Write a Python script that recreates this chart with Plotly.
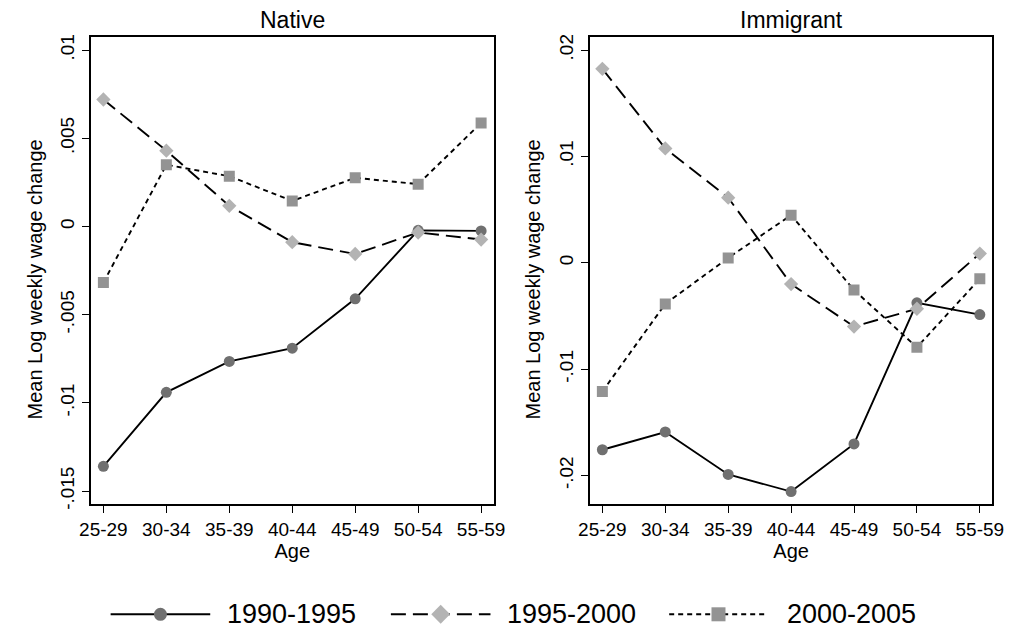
import plotly.graph_objects as go

ages = ["25-29", "30-34", "35-39", "40-44", "45-49", "50-54", "55-59"]
series_names = ["1990-1995", "1995-2000", "2000-2005"]

native_1990_1995 = [-0.0136, -0.0094, -0.00765, -0.0069, -0.0041, -0.00022, -0.00025]
native_1995_2000 = [0.0072, 0.0043, 0.00117, -0.00089, -0.00156, -0.00034, -0.00074]
native_2000_2005 = [-0.00318, 0.0035, 0.00285, 0.00145, 0.00276, 0.0024, 0.00587]

immig_1990_1995 = [-0.01757, -0.0159, -0.01989, -0.0215, -0.01702, -0.00376, -0.00487]
immig_1995_2000 = [0.01823, 0.01075, 0.00612, -0.0020, -0.00599, -0.00432, 0.00087]
immig_2000_2005 = [-0.0121, -0.00386, 0.00046, 0.00448, -0.00256, -0.00794, -0.00151]

native_ticks = [-0.015, -0.01, -0.005, 0, 0.005, 0.01]
native_ticktext = ["-.015", "-.01", "-.005", "0", ".005", ".01"]
immig_ticks = [-0.02, -0.01, 0, 0.01, 0.02]
immig_ticktext = ["-.02", "-.01", "0", ".01", ".02"]

FONT = "Liberation Sans, Arial, sans-serif"
W, H = 1021, 641

styles = [
    dict(line=dict(color="black", width=1.9, dash="solid"),
         marker=dict(symbol="circle", size=11, color="#707070"), legsize=13),
    dict(line=dict(color="black", width=1.9, dash="15px,7px"),
         marker=dict(symbol="diamond", size=11, color="#b3b3b3"), legsize=14.5),
    dict(line=dict(color="black", width=1.9, dash="5px,4px"),
         marker=dict(symbol="square", size=11, color="#939393"), legsize=14),
]

fig = go.Figure()

for data, xa, ya in [
    ([native_1990_1995, native_1995_2000, native_2000_2005], "x", "y"),
    ([immig_1990_1995, immig_1995_2000, immig_2000_2005], "x2", "y2"),
]:
    for name, vals, st in zip(series_names, data, styles):
        fig.add_trace(go.Scatter(
            x=ages, y=vals, mode="lines+markers", name=name,
            line=st["line"], marker=dict(symbol=st["marker"]["symbol"], size=st["marker"]["size"],
                                          color=st["marker"]["color"], line=dict(width=0)),
            xaxis=xa, yaxis=ya, showlegend=False,
        ))

def px_x(p):
    return p / W

def px_y(p):
    return 1 - p / H

ydom = [px_y(507.7), px_y(34)]
common_x = dict(type="category", range=[-0.2, 6.2], showline=True, linecolor="black", linewidth=1.5,
                mirror=True, ticks="outside", ticklen=8, tickwidth=1.3, tickcolor="black",
                showgrid=False, zeroline=False,
                tickfont=dict(family=FONT, size=19, color="black"),
                title=dict(text="Age", font=dict(family=FONT, size=20, color="black"), standoff=2))
common_y = dict(showline=True, linecolor="black", linewidth=1.5, mirror=True, ticks="outside",
                ticklen=7, tickwidth=1.3, tickcolor="black", showgrid=False, zeroline=False,
                tickangle=-90, tickfont=dict(family=FONT, size=19, color="black"))

fig.update_layout(
    width=W, height=H,
    margin=dict(l=0, r=0, t=0, b=0),
    paper_bgcolor="white", plot_bgcolor="white",
    font=dict(family=FONT, color="black"),
    showlegend=False,
    hovermode=False,
    xaxis=dict(domain=[px_x(80.7), px_x(493.3)], anchor="y", **common_x),
    yaxis=dict(domain=ydom, anchor="x", range=[-0.01571, 0.01077],
               tickvals=native_ticks, ticktext=native_ticktext, **common_y),
    xaxis2=dict(domain=[px_x(591.7), px_x(1004)], anchor="y2", **common_x),
    yaxis2=dict(domain=ydom, anchor="x2", range=[-0.02263, 0.02127],
                tickvals=immig_ticks, ticktext=immig_ticktext, **common_y),
)

# subplot titles
for txt, cx in [("Native", 287.0), ("Immigrant", 797.9)]:
    fig.add_annotation(text=txt, x=px_x(cx), y=px_y(17), xref="paper", yref="paper",
                       showarrow=False, xanchor="center", yanchor="middle",
                       font=dict(family=FONT, size=23, color="black"))

# y-axis titles
for cx in [24, 534]:
    fig.add_annotation(text="Mean Log weekly wage change", x=px_x(cx), y=px_y(280),
                       xref="paper", yref="paper", showarrow=False, textangle=-90,
                       xanchor="center", yanchor="middle",
                       font=dict(family=FONT, size=20, color="black"))

# legend (drawn manually to reproduce the long symbol samples)
leg_y = px_y(620)
leg_items = [(101, 203, 218), (388, 490, 505), (673, 774, 792)]
for (x0, x1, tx), name, st in zip(leg_items, series_names, styles):
    fig.add_shape(type="line", xref="paper", yref="paper", x0=px_x(x0), x1=px_x(x1),
                  y0=leg_y, y1=leg_y, line=dict(color="black", width=1.9, dash=st["line"]["dash"]))
    s = st["legsize"] / 2
    cx = px_x((x0 + x1) / 2)
    sym = st["marker"]["symbol"]
    col = st["marker"]["color"]
    if sym == "circle":
        fig.add_shape(type="circle", xref="paper", yref="paper", xsizemode="pixel", ysizemode="pixel",
                      xanchor=cx, yanchor=leg_y, x0=-s, x1=s, y0=-s, y1=s,
                      fillcolor=col, line=dict(width=0))
    elif sym == "diamond":
        d = s * 1.3
        fig.add_shape(type="path", xref="paper", yref="paper", xsizemode="pixel", ysizemode="pixel",
                      xanchor=cx, yanchor=leg_y,
                      path=f"M 0,{d} L {d},0 L 0,{-d} L {-d},0 Z",
                      fillcolor=col, line=dict(width=0))
    else:
        fig.add_shape(type="rect", xref="paper", yref="paper", xsizemode="pixel", ysizemode="pixel",
                      xanchor=cx, yanchor=leg_y, x0=-s, x1=s, y0=-s, y1=s,
                      fillcolor=col, line=dict(width=0))
    fig.add_annotation(text=name, x=px_x(tx), y=leg_y, xref="paper", yref="paper",
                       showarrow=False, xanchor="left", yanchor="middle",
                       font=dict(family=FONT, size=27, color="black"))

fig.write_html("out.html", config={"displayModeBar": False},
               post_script="document.body.style.margin='0px';")
